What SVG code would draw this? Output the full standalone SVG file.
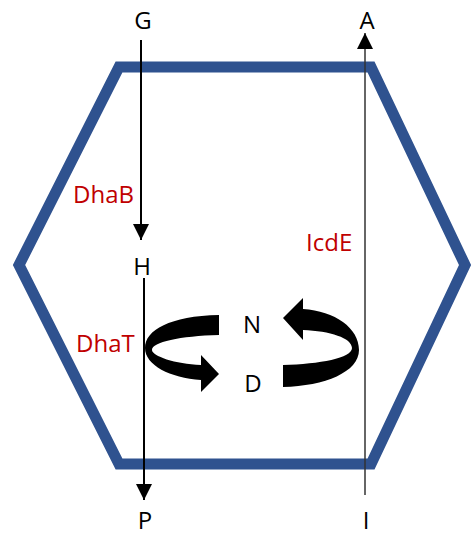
<svg xmlns="http://www.w3.org/2000/svg" width="471" height="536" viewBox="0 0 471 536">
<style>
.lbl{font-family:"Open Sans","Noto Sans",sans-serif;font-size:24px;fill:#000;text-anchor:middle}
.enz{font-family:"Open Sans","Noto Sans",sans-serif;font-size:24px;fill:#C00000}
.ln{stroke:#000;stroke-width:2;fill:none}
</style>
<defs>
<marker id="ah2" viewBox="0 0 10 10" refX="10" refY="5" markerWidth="16" markerHeight="16" markerUnits="userSpaceOnUse" orient="auto">
<path d="M0,0 L10,5 L0,10 Z" fill="#000"/>
</marker>
</defs>
<g id="cell">
<polygon points="119,67 371,67 465,265 371,464 119,464 19,265" fill="none" stroke="#2F528F" stroke-width="11"/>
</g>
<g id="connectors">
<line class="ln" x1="141" y1="40" x2="141" y2="240" marker-end="url(#ah2)"/>
<line class="ln" x1="144" y1="278" x2="144" y2="500" marker-end="url(#ah2)"/>
<line x1="365" y1="495" x2="365" y2="33" stroke="#333" stroke-width="1.5" marker-end="url(#ah2)"/>
<path id="cycleL" d="M219 315 C170 316 145 330 145 348 C145 365 170 378 201 380 L201 392 L219 374 L201 355 L201 365 C175 364 152 356 152 350 C152 342 180 336 219 335 Z" fill="#000"/>
<path id="cycleR" d="M283 318 L303 298 L303 309 C335 311 359 328 359 350 C359 372 325 386 283 387 L283 365 C320 364 352 358 352 348 C352 338 330 331 303 330 L303 340 Z" fill="#000"/>
</g>
<g id="G"><text class="lbl" x="143" y="29">G</text></g>
<g id="A"><text class="lbl" x="367" y="29">A</text></g>
<g id="H"><text class="lbl" x="142" y="275">H</text></g>
<g id="P"><text class="lbl" x="145" y="529">P</text></g>
<g id="I"><text class="lbl" x="366" y="529">I</text></g>
<g id="N"><text class="lbl" x="252" y="333">N</text></g>
<g id="D"><text class="lbl" x="253" y="392">D</text></g>
<g id="DhaB"><text class="enz" x="73" y="203">DhaB</text></g>
<g id="DhaT"><text class="enz" x="76" y="352">DhaT</text></g>
<g id="IcdE"><text class="enz" x="306" y="251">IcdE</text></g>
</svg>
